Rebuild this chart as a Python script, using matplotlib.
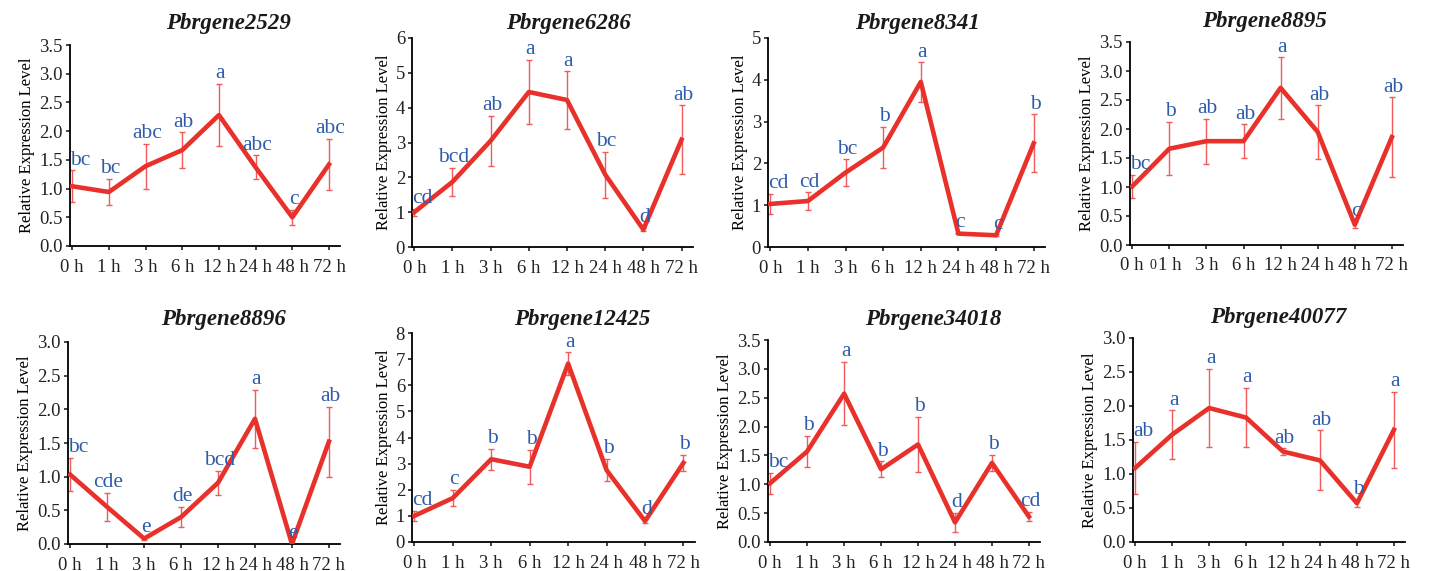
import numpy as np
import matplotlib
matplotlib.use('Agg')
import matplotlib.pyplot as plt
from matplotlib.ticker import FormatStrFormatter, MultipleLocator

plt.rcParams['font.family'] = ['Liberation Serif', 'DejaVu Serif']

times = ['0 h', '1 h', '3 h', '6 h', '12 h', '24 h', '48 h', '72 h']

genes = ['Pbrgene2529', 'Pbrgene6286', 'Pbrgene8341', 'Pbrgene8895',
         'Pbrgene8896', 'Pbrgene12425', 'Pbrgene34018', 'Pbrgene40077']

# mean relative expression for each gene
means_2529 = [1.04, 0.94, 1.39, 1.67, 2.28, 1.37, 0.50, 1.42]
means_6286 = [1.00, 1.87, 3.05, 4.45, 4.22, 2.08, 0.50, 3.08]
means_8341 = [1.03, 1.10, 1.78, 2.38, 3.95, 0.32, 0.28, 2.48]
means_8895 = [1.01, 1.66, 1.79, 1.79, 2.71, 1.95, 0.35, 1.86]
means_8896 = [1.03, 0.55, 0.08, 0.40, 0.91, 1.86, 0.00, 1.52]
means_12425 = [1.00, 1.68, 3.17, 2.88, 6.83, 2.75, 0.80, 3.03]
means_34018 = [1.02, 1.57, 2.57, 1.26, 1.69, 0.34, 1.37, 0.44]
means_40077 = [1.09, 1.58, 1.97, 1.83, 1.33, 1.20, 0.57, 1.65]

# standard deviations (error bars)
sd_2529 = [0.28, 0.23, 0.39, 0.31, 0.54, 0.21, 0.13, 0.45]
sd_6286 = [0.10, 0.40, 0.72, 0.93, 0.82, 0.66, 0.05, 0.99]
sd_8341 = [0.24, 0.21, 0.32, 0.50, 0.47, 0.02, 0.02, 0.69]
sd_8895 = [0.20, 0.46, 0.39, 0.29, 0.53, 0.46, 0.05, 0.69]
sd_8896 = [0.25, 0.21, 0.02, 0.15, 0.18, 0.43, 0.01, 0.52]
sd_12425 = [0.20, 0.31, 0.40, 0.65, 0.43, 0.43, 0.07, 0.30]
sd_34018 = [0.18, 0.27, 0.55, 0.14, 0.48, 0.17, 0.14, 0.08]
sd_40077 = [0.38, 0.36, 0.58, 0.44, 0.05, 0.44, 0.05, 0.56]

# significance letters
sig_2529 = ['bc', 'bc', 'abc', 'ab', 'a', 'abc', 'c', 'abc']
sig_6286 = ['cd', 'bcd', 'ab', 'a', 'a', 'bc', 'd', 'ab']
sig_8341 = ['cd', 'cd', 'bc', 'b', 'a', 'c', 'c', 'b']
sig_8895 = ['bc', 'b', 'ab', 'ab', 'a', 'ab', 'c', 'ab']
sig_8896 = ['bc', 'cde', 'e', 'de', 'bcd', 'a', 'e', 'ab']
sig_12425 = ['cd', 'c', 'b', 'b', 'a', 'b', 'd', 'b']
sig_34018 = ['bc', 'b', 'a', 'b', 'b', 'd', 'b', 'cd']
sig_40077 = ['ab', 'a', 'a', 'a', 'ab', 'ab', 'b', 'a']

means = [means_2529, means_6286, means_8341, means_8895,
         means_8896, means_12425, means_34018, means_40077]
sds = [sd_2529, sd_6286, sd_8341, sd_8895,
       sd_8896, sd_12425, sd_34018, sd_40077]
sigs = [sig_2529, sig_6286, sig_8341, sig_8895,
        sig_8896, sig_12425, sig_34018, sig_40077]

y_max = [3.5, 6, 5, 3.5, 3.0, 8, 3.5, 3.0]
y_step = [0.5, 1, 1, 0.5, 0.5, 1, 0.5, 0.5]

# axes boxes in pixels: left, right, top, bottom
W, H = 1444, 571
boxes = [(70, 340, 45, 246), (412, 693, 38, 247), (768, 1045, 38, 247), (1130, 1403, 42, 245),
         (68, 340, 342, 544), (412, 695, 333, 542), (768, 1040, 340, 542), (1133, 1405, 338, 542)]
# title centres in pixels
title_xy = [(228, 24), (568, 24), (917, 24), (1264, 22),
            (223, 320), (582, 320), (933, 320), (1278, 318)]

line_red = '#e8312b'
err_red = '#f05a5a'
blue = '#2f5caa'

fig = plt.figure(figsize=(W / 100, H / 100), dpi=100)
x = np.arange(len(times))

for i in range(8):
    l, r, t, b = boxes[i]
    ax = fig.add_axes([l / W, 1 - b / H, (r - l) / W, (b - t) / H])
    m = np.array(means[i])
    s = np.array(sds[i])
    ax.errorbar(x, m, yerr=s, fmt='none', ecolor=err_red, elinewidth=1.0,
                capsize=2.5, capthick=1.0, zorder=2)
    ax.plot(x, m, color=line_red, lw=3.3, zorder=3)
    for xi, yi, lab in zip(x, m + s, sigs[i]):
        dx = 6 if xi == 0 else 1
        ax.annotate(lab, (xi, yi), xytext=(dx, 4), textcoords='offset points',
                    ha='center', va='baseline', color=blue, fontsize=15.5)
    ax.set_xlim(-0.06, 7.3)
    ax.set_ylim(0, y_max[i])
    ax.yaxis.set_major_locator(MultipleLocator(y_step[i]))
    if y_step[i] < 1:
        ax.yaxis.set_major_formatter(FormatStrFormatter('%.1f'))
    ax.set_xticks(x)
    ax.set_xticklabels(times)
    ax.spines['top'].set_visible(False)
    ax.spines['right'].set_visible(False)
    for sp in ('left', 'bottom'):
        ax.spines[sp].set_linewidth(1.3)
    ax.tick_params(direction='out', length=3, width=1.2, labelsize=13.5, pad=2, colors='#222222')
    ax.tick_params(axis='x', pad=6)
    ax.set_ylabel('Relative Expression Level', fontsize=12, labelpad=3)
    tx, ty = title_xy[i]
    fig.text(tx / W, 1 - ty / H, genes[i], fontsize=16.5, fontweight='bold',
             fontstyle='italic', ha='center', va='center', color='#1a1a1a')
    if i == 3:
        # stray small zero next to the first tick label in the source figure
        ax.text(0.084, -0.1, '0', transform=ax.transAxes, fontsize=10,
                ha='center', va='center', color='#222222')

fig.savefig('out.png', dpi=100)
